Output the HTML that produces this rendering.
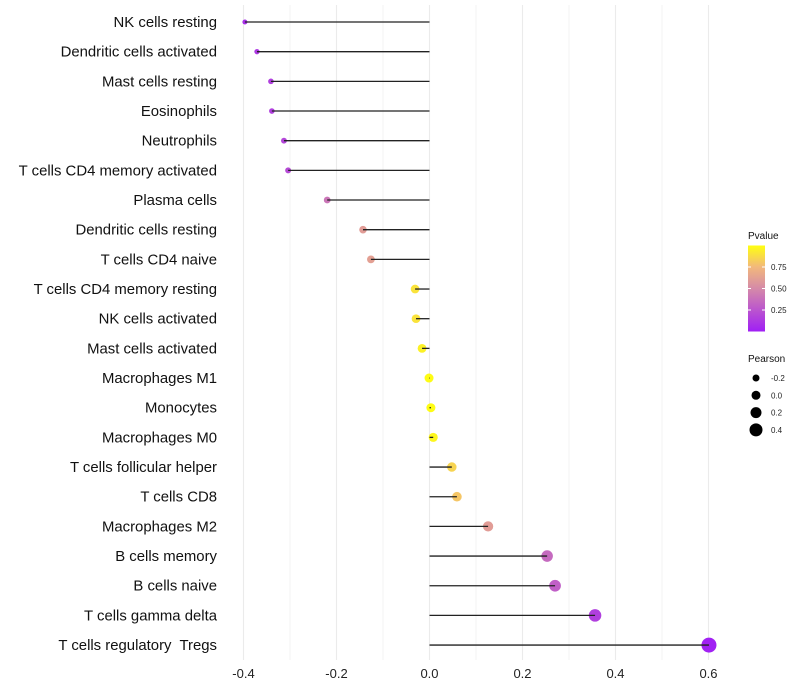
<!DOCTYPE html>
<html><head><meta charset="utf-8"><style>body{margin:0;background:#fff}svg{display:block;font-family:"Liberation Sans",sans-serif}</style></head>
<body>
<svg id="c" width="800" height="700">
<defs><linearGradient id="pg" x1="0" y1="1" x2="0" y2="0">
<stop offset="0" stop-color="#a01ff5"/><stop offset="0.5" stop-color="#d58aa8"/><stop offset="0.75" stop-color="#f2b87c"/><stop offset="1" stop-color="#ffff10"/></linearGradient></defs>
</svg>
<script>
const categories=["NK cells resting","Dendritic cells activated","Mast cells resting","Eosinophils","Neutrophils","T cells CD4 memory activated","Plasma cells","Dendritic cells resting","T cells CD4 naive","T cells CD4 memory resting","NK cells activated","Mast cells activated","Macrophages M1","Monocytes","Macrophages M0","T cells follicular helper","T cells CD8","Macrophages M2","B cells memory","B cells naive","T cells gamma delta","T cells regulatory  Tregs"];
const pearson=[-0.397,-0.371,-0.341,-0.339,-0.313,-0.304,-0.220,-0.143,-0.126,-0.031,-0.029,-0.016,-0.001,0.003,0.008,0.048,0.059,0.126,0.253,0.270,0.356,0.601];
const pvalue=[0.08,0.12,0.15,0.15,0.18,0.2,0.4,0.6,0.62,0.9,0.9,0.95,0.99,0.99,0.97,0.85,0.8,0.6,0.35,0.3,0.15,0.01];
const xTicks=[-0.4,-0.2,0.0,0.2,0.4,0.6];
const pTicks=[0.25,0.5,0.75];
const sizeTicks=[-0.2,0.0,0.2,0.4];
const NS="http://www.w3.org/2000/svg",svg=document.getElementById('c');
function mk(t,a,txt){const e=document.createElementNS(NS,t);for(const k in a)e.setAttribute(k,a[k]);if(txt!=null)e.textContent=txt;svg.appendChild(e);return e;}
const X=v=>429.5+v*465, Y=i=>22+i*29.67, R=v=>4.5+5*v;
const stops=[[0,[160,31,245]],[0.5,[213,138,168]],[0.75,[242,184,124]],[1,[255,255,16]]];
function col(p){for(let i=1;i<stops.length;i++){if(p<=stops[i][0]){const a=stops[i-1],b=stops[i],t=(p-a[0])/(b[0]-a[0]);return 'rgb('+a[1].map((c,j)=>Math.round(c+(b[1][j]-c)*t)).join(',')+')';}}return 'rgb(255,255,16)';}
for(let v=-0.4;v<=0.601;v+=0.1){const g=mk('line',{x1:X(v),x2:X(v),y1:5,y2:660,stroke:'#ebebeb','stroke-width':Math.abs(Math.round(v*10))%2?0.6:1.1});

}
xTicks.forEach(t=>{const e=mk('text',{x:X(t),y:678,'text-anchor':'middle','font-size':13,fill:'#222'},t.toFixed(1));

});
categories.forEach((c,i)=>{const l=mk('text',{x:217,y:Y(i)+5,'text-anchor':'end','font-size':14.9,fill:'#111',style:'white-space:pre'},c);


const d=mk('circle',{cx:X(pearson[i]),cy:Y(i),r:R(pearson[i]),fill:col(pvalue[i])});


const s=mk('line',{x1:X(0),x2:X(pearson[i]),y1:Y(i),y2:Y(i),stroke:'#222','stroke-width':1.3});

});
const lt=mk('text',{x:748,y:239,'font-size':10,fill:'#111'},'Pvalue');


const cb=mk('rect',{x:748,y:245.5,width:17,height:86,fill:'url(#pg)'});


pTicks.forEach(p=>{const y=331.5-p*86;mk('line',{x1:748,x2:751,y1:y,y2:y,stroke:'#fff'});mk('line',{x1:762,x2:765,y1:y,y2:y,stroke:'#fff'});
const e=mk('text',{x:771,y:y+3,'font-size':8,fill:'#222'},p.toFixed(2));

});
const st=mk('text',{x:748,y:362,'font-size':10,fill:'#111'},'Pearson');


sizeTicks.forEach((s,i)=>{const y=378+i*17.3;const d=mk('circle',{cx:756,cy:y,r:R(s),fill:'#000'});


const e=mk('text',{x:771,y:y+3,'font-size':8,fill:'#222'},s.toFixed(1));

});
</script>
</body></html>
